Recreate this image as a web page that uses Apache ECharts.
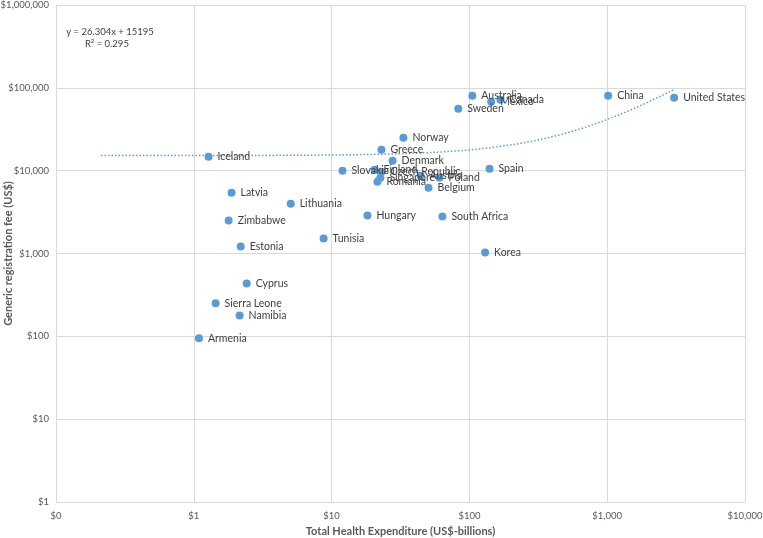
<!DOCTYPE html>
<html><head><meta charset="utf-8">
<script src="https://cdn.jsdelivr.net/npm/echarts@6/dist/echarts.min.js"></script>
<style>html,body{margin:0;padding:0;background:#fff}#c{width:763px;height:538px}</style>
</head><body><div id="c"></div>
<script>
const countries = ["Iceland","Latvia","Zimbabwe","Estonia","Lithuania","Tunisia","Cyprus","Sierra Leone","Namibia","Armenia","Hungary","South Africa","Korea","Norway","Greece","Denmark","Slovakia","Finland","Czech Republic","Singapore","Romania","Austria","Poland","Belgium","Spain","Sweden","Australia","Mexico","Canada","China","United States"];
const healthExpenditure = [1.28,1.88,1.79,2.19,5.05,8.75,2.42,1.44,2.15,1.09,18.2,63.7,130,33.2,23.0,27.7,12.0,20.5,23.0,22.6,21.5,44.2,60.6,50.5,140,83,105,144,168,1016,3060];
const registrationFee = [14750,5430,2500,1215,4000,1517,435,250,179,95,2870,2790,1028,25000,17900,13200,10000,10280,9730,8240,7370,8710,8240,6240,10570,55800,80100,67800,71600,80100,75800];
const trendSlope = 26.304, trendIntercept = 15195;
const trendXStart = 0.212, trendXEnd = 3060;
const equationText = "y = 26.304x + 15195";
const r2Text = "R\u00b2 = 0.295";

const pts = countries.map((n,i)=>({name:n, value:[healthExpenditure[i], registrationFee[i]]}));
const trend = [];
const N = 120;
for (let k=0;k<=N;k++){
  const lx = Math.log10(trendXStart) + (Math.log10(trendXEnd)-Math.log10(trendXStart))*k/N;
  const x = Math.pow(10,lx);
  trend.push([x, trendSlope*x + trendIntercept]);
}
const fmt = v => v < 1 ? "$0" : "$" + Math.round(v).toLocaleString("en-US");
const font = "Lato, 'Open Sans', sans-serif";
const chart = echarts.init(document.getElementById('c'));
chart.setOption({
  animation:false,
  textStyle:{fontFamily:font},
  grid:{left:56,right:18,top:5,bottom:36,containLabel:false,outerBoundsMode:'none'},
  xAxis:{type:'log',logBase:10,min:0.1,max:10000,
    name:'Total Health Expenditure (US$-billions)',nameLocation:'middle',nameGap:29,nameMoveOverlap:false,
    nameTextStyle:{fontWeight:'bold',color:'#595959',fontSize:11,fontFamily:font,verticalAlign:'middle'},
    axisLine:{show:true,lineStyle:{color:'#d9d9d9'}},axisTick:{show:false},
    axisLabel:{formatter:fmt,color:'#595959',fontSize:9.5,margin:9,fontFamily:font},
    splitLine:{show:true,lineStyle:{color:'#d9d9d9'}},minorTick:{show:false}},
  yAxis:{type:'log',logBase:10,min:1,max:1000000,
    name:'Generic registration fee (US$)',nameLocation:'middle',nameGap:48,nameMoveOverlap:false,
    nameTextStyle:{fontWeight:'bold',color:'#595959',fontSize:11,fontFamily:font,verticalAlign:'middle'},
    axisLine:{show:true,lineStyle:{color:'#d9d9d9'}},axisTick:{show:false},
    axisLabel:{formatter:fmt,color:'#595959',fontSize:9.5,margin:7,fontFamily:font},
    splitLine:{show:true,lineStyle:{color:'#d9d9d9'}}},
  series:[
    {type:'line',data:trend,showSymbol:false,symbol:'none',silent:true,
     lineStyle:{color:'#5B9BD5',width:1.5,type:[1.5,2]},z:1},
    {type:'scatter',data:pts,symbolSize:8,itemStyle:{color:'#5B9BD5',opacity:1},z:3,
     label:{show:true,position:'right',distance:5,formatter:p=>p.name,color:'#404040',fontSize:10.5,fontFamily:font}}
  ],
  graphic:[
    {type:'text',x:110,y:27,style:{text:equationText,fill:'#404040',font:'9.5px '+font,textAlign:'center'}},
    {type:'text',x:107,y:39,style:{text:r2Text,fill:'#404040',font:'9.5px '+font,textAlign:'center'}}
  ]
});
</script></body></html>
